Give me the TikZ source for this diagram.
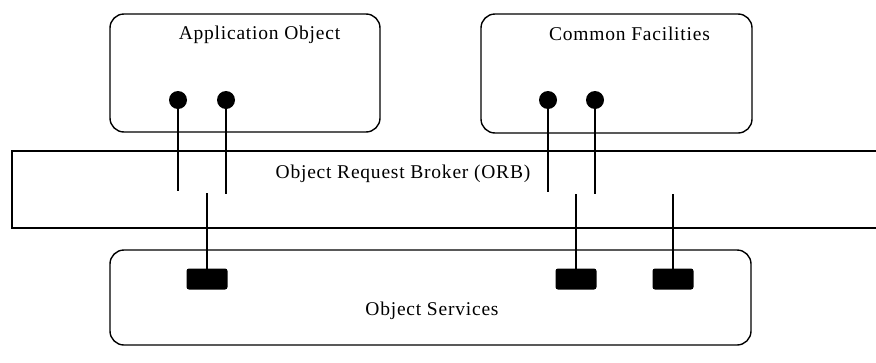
\documentclass[tikz,border=0pt]{standalone}
\usepackage{fontspec}
\setmainfont{Liberation Serif}[LetterSpace=4]
\begin{document}
\begin{tikzpicture}[x=1pt,y=-1pt,
  frame/.style={draw, rounded corners=14pt, line width=1.4pt, inner sep=0pt},
  port/.style={circle, fill, inner sep=0pt, minimum size=18pt},
  socket/.style={rectangle, fill, rounded corners=2.5pt, inner sep=0pt,
                 minimum width=41pt, minimum height=21pt},
  wire/.style={line width=1.4pt},
  label/.style={font=\fontsize{19.5}{23}\selectfont, anchor=base, inner sep=0pt}]
\useasboundingbox (0,0) rectangle (876,362);

% component boxes
\node[frame, minimum width=270pt, minimum height=118pt] (app) at (245,73) {};
\node[frame, minimum width=271pt, minimum height=119pt] (cf)  at (616.5,73.5) {};
\node[frame, minimum width=641pt, minimum height=95pt]  (os)  at (430.5,297.5) {};

% the ORB bus, open towards the right edge
\draw[wire] (876,151) -- (12,151) -- (12,228) -- (876,228);

% labels
\node[label] (appT) at (259.5,39)  {Application Object};
\node[label] (cfT)  at (629.5,40)  {Common Facilities};
\node[label] (orbT) at (403,178)   {Object Request Broker (ORB)};
\node[label] (osT)  at (432,315)   {Object Services};

% client ports (balls) with their wires into the bus
\node[port] (a1) at (178,100) {};
\node[port] (a2) at (226,100) {};
\node[port] (c1) at (548,100) {};
\node[port] (c2) at (595,100) {};
\coordinate (a1e) at (178,191);
\coordinate (a2e) at (226,194);
\coordinate (c1e) at (548,192);
\coordinate (c2e) at (595,194);
\draw[wire] (a1.center) -- (a1e);
\draw[wire] (a2.center) -- (a2e);
\draw[wire] (c1.center) -- (c1e);
\draw[wire] (c2.center) -- (c2e);

% service sockets with their wires from the bus
\node[socket] (s1) at (207,279) {};
\node[socket] (s2) at (576,279) {};
\node[socket] (s3) at (673,279) {};
\coordinate (s1e) at (207,193);
\coordinate (s2e) at (576,194);
\coordinate (s3e) at (673,194);
\draw[wire] (s1e) -- (s1.center);
\draw[wire] (s2e) -- (s2.center);
\draw[wire] (s3e) -- (s3.center);
\end{tikzpicture}
\end{document}
